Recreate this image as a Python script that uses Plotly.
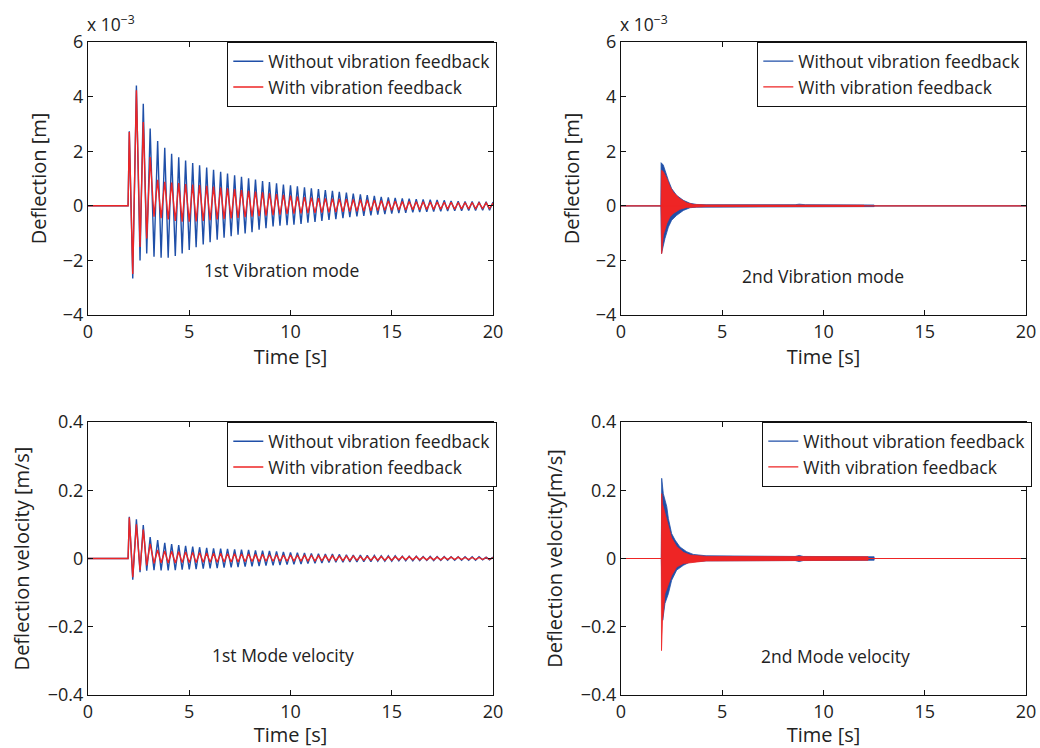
import plotly.graph_objects as go

# ---- 1st mode: times of the extrema ----
t_up = [2.04, 2.39, 2.73, 3.07, 3.44, 3.79, 4.13, 4.48, 4.82, 5.17, 5.51, 5.86, 6.20, 6.55, 6.89,
        7.24, 7.58, 7.93, 8.27, 8.62, 8.96, 9.31, 9.65, 10.00, 10.34, 10.69, 11.03, 11.38, 11.72,
        12.07, 12.41, 12.76, 13.10, 13.45, 13.79, 14.14, 14.48, 14.83, 15.17, 15.52, 15.86, 16.21,
        16.55, 16.90, 17.24, 17.59, 17.93, 18.28, 18.62, 18.97, 19.31, 19.66, 20.00]
t_dn = [2.21, 2.57, 2.90, 3.26, 3.61, 3.96, 4.31, 4.65, 5.00, 5.34, 5.69, 6.03, 6.38, 6.72, 7.07,
        7.41, 7.76, 8.10, 8.45, 8.79, 9.14, 9.48, 9.83, 10.17, 10.52, 10.86, 11.21, 11.55, 11.90,
        12.24, 12.59, 12.93, 13.28, 13.62, 13.97, 14.31, 14.66, 15.00, 15.35, 15.69, 16.04, 16.38,
        16.73, 17.07, 17.42, 17.76, 18.11, 18.45, 18.80, 19.14, 19.49, 19.83]

# deflection, units of 1e-3 m
defl_blue_up = [2.73, 4.41, 3.74, 2.83, 2.37, 2.13, 1.91, 1.78, 1.66, 1.57, 1.48, 1.40, 1.32, 1.25,
                1.18, 1.12, 1.06, 1.01, 0.96, 0.91, 0.87, 0.82, 0.78, 0.75, 0.71, 0.68, 0.64, 0.61,
                0.58, 0.55, 0.51, 0.48, 0.45, 0.42, 0.39, 0.36, 0.33, 0.31, 0.29, 0.27, 0.26, 0.24,
                0.23, 0.22, 0.21, 0.20, 0.18, 0.17, 0.16, 0.16, 0.15, 0.15, 0.14]
defl_blue_dn = [-2.66, -2.00, -1.75, -1.87, -1.90, -1.90, -1.84, -1.75, -1.62, -1.52, -1.42, -1.33,
                -1.24, -1.17, -1.11, -1.06, -1.01, -0.97, -0.88, -0.82, -0.76, -0.73, -0.71, -0.69,
                -0.66, -0.62, -0.59, -0.55, -0.52, -0.49, -0.45, -0.42, -0.39, -0.37, -0.35, -0.32,
                -0.30, -0.29, -0.27, -0.26, -0.24, -0.23, -0.22, -0.21, -0.20, -0.19, -0.18, -0.18,
                -0.17, -0.17, -0.16, -0.16]
defl_red_up = [2.70, 4.23, 3.07, 1.79, 0.95, 0.88, 0.85, 0.83, 0.80, 0.78, 0.76, 0.73, 0.70, 0.67,
               0.64, 0.61, 0.58, 0.55, 0.52, 0.49, 0.46, 0.43, 0.40, 0.37, 0.34, 0.32, 0.30, 0.28,
               0.27, 0.26, 0.25, 0.24, 0.23, 0.22, 0.21, 0.20, 0.19, 0.18, 0.17, 0.16, 0.16, 0.15,
               0.15, 0.14, 0.14, 0.13, 0.13, 0.12, 0.12, 0.12, 0.11, 0.11, 0.10]
defl_red_dn = [-2.50, -1.51, -1.20, -0.40, -0.45, -0.50, -0.55, -0.58, -0.58, -0.57, -0.55, -0.53,
               -0.50, -0.48, -0.46, -0.44, -0.42, -0.40, -0.38, -0.36, -0.34, -0.32, -0.30, -0.29,
               -0.28, -0.27, -0.26, -0.25, -0.24, -0.23, -0.22, -0.21, -0.20, -0.19, -0.18, -0.17,
               -0.16, -0.16, -0.15, -0.15, -0.14, -0.14, -0.13, -0.13, -0.12, -0.12, -0.12, -0.11,
               -0.11, -0.10, -0.10, -0.10]

# deflection velocity, m/s
vel_blue_up = [0.122, 0.115, 0.098, 0.063, 0.054, 0.046, 0.042, 0.039, 0.037, 0.035, 0.033, 0.031,
               0.030, 0.029, 0.028, 0.027, 0.026, 0.025, 0.024, 0.023, 0.022, 0.021, 0.019, 0.018,
               0.017, 0.016, 0.015, 0.014, 0.013, 0.013, 0.012, 0.011, 0.010, 0.010, 0.009, 0.009,
               0.008, 0.008, 0.008, 0.007, 0.007, 0.007, 0.006, 0.006, 0.006, 0.006, 0.005, 0.005,
               0.005, 0.005, 0.005, 0.004, 0.004]
vel_blue_dn = [-0.062, -0.040, -0.036, -0.034, -0.035, -0.035, -0.034, -0.033, -0.032, -0.031,
               -0.030, -0.029, -0.028, -0.027, -0.026, -0.025, -0.024, -0.023, -0.022, -0.021,
               -0.020, -0.019, -0.018, -0.017, -0.016, -0.015, -0.014, -0.013, -0.012, -0.011,
               -0.011, -0.010, -0.010, -0.009, -0.009, -0.008, -0.008, -0.008, -0.007, -0.007,
               -0.007, -0.006, -0.006, -0.006, -0.006, -0.005, -0.005, -0.005, -0.005, -0.005,
               -0.004, -0.004]
vel_red_up = [0.120, 0.100, 0.085, 0.043, 0.025, 0.022, 0.021, 0.020, 0.019, 0.018, 0.017, 0.016,
              0.015, 0.015, 0.014, 0.014, 0.013, 0.013, 0.012, 0.012, 0.011, 0.011, 0.010, 0.010,
              0.009, 0.009, 0.009, 0.008, 0.008, 0.008, 0.007, 0.007, 0.007, 0.006, 0.006, 0.006,
              0.006, 0.005, 0.005, 0.005, 0.005, 0.005, 0.004, 0.004, 0.004, 0.004, 0.004, 0.004,
              0.003, 0.003, 0.003, 0.003, 0.003]
vel_red_dn = [-0.055, -0.034, -0.020, -0.014, -0.013, -0.013, -0.013, -0.012, -0.012, -0.012,
              -0.011, -0.011, -0.011, -0.010, -0.010, -0.010, -0.009, -0.009, -0.009, -0.008,
              -0.008, -0.008, -0.008, -0.007, -0.007, -0.007, -0.007, -0.006, -0.006, -0.006,
              -0.006, -0.006, -0.005, -0.005, -0.005, -0.005, -0.005, -0.005, -0.004, -0.004,
              -0.004, -0.004, -0.004, -0.004, -0.004, -0.003, -0.003, -0.003, -0.003, -0.003,
              -0.003, -0.003]

# ---- 2nd mode: envelopes of the dense high-frequency burst ----
m2_blue_t_up = [1.97, 1.98, 2.09, 2.17, 2.34, 2.50, 2.75, 3.08, 3.41, 3.74, 4.20, 8.60, 8.80, 9.10, 12.50]
m2_blue_up = [0.0, 1.58, 1.49, 1.30, 0.93, 0.63, 0.38, 0.20, 0.09, 0.05, 0.04, 0.04, 0.06, 0.04, 0.03]
m2_blue_t_dn = [1.97, 2.00, 2.17, 2.34, 2.50, 2.75, 3.08, 3.41, 3.74, 4.20, 8.60, 8.80, 9.10, 12.50]
m2_blue_dn = [0.0, -1.75, -1.20, -0.78, -0.53, -0.35, -0.17, -0.07, -0.05, -0.04, -0.04, -0.05, -0.04, -0.03]
m2_red_t_up = [1.98, 2.00, 2.09, 2.26, 2.42, 2.58, 2.91, 3.24, 3.57, 4.20, 12.00]
m2_red_up = [0.0, 1.30, 1.25, 1.00, 0.70, 0.50, 0.26, 0.11, 0.05, 0.03, 0.02]
m2_red_t_dn = [1.98, 2.01, 2.09, 2.26, 2.42, 2.58, 2.91, 3.24, 3.57, 4.20, 12.00]
m2_red_dn = [0.0, -1.75, -1.07, -0.65, -0.40, -0.28, -0.13, -0.06, -0.04, -0.03, -0.02]

v2_blue_t_up = [1.99, 2.01, 2.09, 2.26, 2.34, 2.50, 2.67, 2.91, 3.24, 3.57, 4.20, 8.60, 8.80, 9.00, 12.50]
v2_blue_up = [0.0, 0.235, 0.19, 0.152, 0.117, 0.073, 0.054, 0.034, 0.020, 0.012, 0.008, 0.006, 0.009, 0.006, 0.005]
v2_blue_t_dn = [1.99, 2.06, 2.17, 2.34, 2.50, 2.75, 3.08, 3.41, 4.20, 8.60, 8.80, 9.00, 12.50]
v2_blue_dn = [0.0, -0.181, -0.132, -0.103, -0.064, -0.034, -0.020, -0.010, -0.007, -0.006, -0.009, -0.006, -0.005]
v2_red_t_up = [1.99, 2.01, 2.05, 2.17, 2.34, 2.50, 2.75, 3.08, 3.41, 4.20, 12.20]
v2_red_up = [0.0, 0.19, 0.16, 0.13, 0.095, 0.060, 0.035, 0.018, 0.010, 0.006, 0.005]
v2_red_t_dn = [1.99, 2.00, 2.05, 2.09, 2.17, 2.34, 2.50, 2.75, 3.08, 4.20, 12.20]
v2_red_dn = [0.0, -0.27, -0.18, -0.16, -0.103, -0.073, -0.050, -0.025, -0.015, -0.007, -0.005]

x_ticks = [0, 5, 10, 15, 20]
defl_ticks = [-4, -2, 0, 2, 4, 6]
vel_ticks = [-0.4, -0.2, 0, 0.2, 0.4]

BLUE = "#1f4fa8"
RED = "#ee2525"
FONT = "Open Sans"

W, H = 1040, 748


def fx(px):
    return px / W


def fy(py):
    return 1 - py / H


def zigzag(up_t, up_v, dn_t, dn_v):
    pts = sorted(list(zip(up_t, up_v)) + list(zip(dn_t, dn_v)))
    return [0, 1.98] + [p[0] for p in pts], [0, 0] + [p[1] for p in pts]


def band(tu, vu, td, vd):
    return tu + td[::-1], vu + vd[::-1]


fig = go.Figure()

panels = [
    ("x", "y", "legend", (defl_blue_up, defl_blue_dn), (defl_red_up, defl_red_dn)),
    ("x3", "y3", "legend3", (vel_blue_up, vel_blue_dn), (vel_red_up, vel_red_dn)),
]
for xa, ya, lg, b, r in panels:
    bx, by = zigzag(t_up, b[0], t_dn, b[1])
    rx, ry = zigzag(t_up, r[0], t_dn, r[1])
    fig.add_trace(go.Scatter(x=bx, y=by, mode="lines", line=dict(color=BLUE, width=1.4),
                             name="Without vibration feedback", xaxis=xa, yaxis=ya, legend=lg))
    fig.add_trace(go.Scatter(x=rx, y=ry, mode="lines", line=dict(color=RED, width=1.4),
                             name="With vibration feedback", xaxis=xa, yaxis=ya, legend=lg))

panels2 = [
    ("x2", "y2", "legend2", (m2_blue_t_up, m2_blue_up, m2_blue_t_dn, m2_blue_dn),
     (m2_red_t_up, m2_red_up, m2_red_t_dn, m2_red_dn)),
    ("x4", "y4", "legend4", (v2_blue_t_up, v2_blue_up, v2_blue_t_dn, v2_blue_dn),
     (v2_red_t_up, v2_red_up, v2_red_t_dn, v2_red_dn)),
]
for xa, ya, lg, b, r in panels2:
    for env, col, name in [(b, BLUE, "Without vibration feedback"), (r, RED, "With vibration feedback")]:
        px_, py_ = band(*env)
        fig.add_trace(go.Scatter(x=px_, y=py_, mode="lines", fill="toself", fillcolor=col,
                                 line=dict(color=col, width=0.8), showlegend=False,
                                 hoverinfo="skip", xaxis=xa, yaxis=ya))
        fig.add_trace(go.Scatter(x=[0, 20], y=[0, 0], mode="lines", line=dict(color=col, width=1.2),
                                 name=name, xaxis=xa, yaxis=ya, legend=lg))

tick_font = dict(family=FONT, size=18, color="#222")
title_font = dict(family=FONT, size=20, color="#222")


def xax(l, r, anchor):
    return dict(domain=[fx(l), fx(r)], anchor=anchor, range=[0, 20], tickvals=x_ticks,
                showgrid=False, zeroline=False, showline=True, mirror="ticks", linecolor="#111",
                linewidth=1.3, ticks="inside", ticklen=5, tickcolor="#111", tickfont=tick_font,
                automargin=False, title=dict(text="Time [s]", font=title_font, standoff=0))


def yax(t, b, anchor, rng, ticks, title, standoff):
    return dict(domain=[fy(b), fy(t)], anchor=anchor, range=rng, tickvals=ticks,
                showgrid=False, zeroline=False, showline=True, mirror="ticks", linecolor="#111",
                linewidth=1.3, ticks="inside", ticklen=5, tickcolor="#111", tickfont=tick_font,
                automargin=False, title=dict(text=title, font=title_font, standoff=standoff))


leg = dict(bgcolor="white", bordercolor="#111", borderwidth=1.3, xanchor="left", yanchor="top",
           font=dict(family=FONT, size=17.5, color="#222"), tracegroupgap=0, traceorder="normal")

fig.update_layout(
    width=W, height=H, margin=dict(l=0, r=0, t=0, b=0, autoexpand=False),
    paper_bgcolor="white", plot_bgcolor="white",
    font=dict(family=FONT, color="#222"),
    xaxis=xax(88, 493, "y"), yaxis=yax(42, 315, "x", [-4, 6], defl_ticks, "Deflection [m]", 10),
    xaxis2=xax(621, 1026, "y2"), yaxis2=yax(42, 315, "x2", [-4, 6], defl_ticks, "Deflection [m]", 10),
    xaxis3=xax(88, 493, "y3"),
    yaxis3=yax(422, 695, "x3", [-0.4, 0.4], vel_ticks, "Deflection velocity [m/s]", 12),
    xaxis4=xax(621, 1026, "y4"),
    yaxis4=yax(422, 695, "x4", [-0.4, 0.4], vel_ticks, "Deflection velocity[m/s]", 12),
    legend=dict(leg, x=fx(227), y=fy(42)),
    legend2=dict(leg, x=fx(757), y=fy(42)),
    legend3=dict(leg, x=fx(227), y=fy(422)),
    legend4=dict(leg, x=fx(762), y=fy(422)),
    showlegend=True,
)

ann_font = dict(family=FONT, size=17.5, color="#222")
for x, y, txt in [(281, 270, "1st Vibration mode"), (823, 276, "2nd Vibration mode"),
                  (283, 655, "1st Mode velocity"), (835, 656, "2nd Mode velocity")]:
    fig.add_annotation(x=fx(x), y=fy(y), xref="paper", yref="paper", text=txt,
                       showarrow=False, font=ann_font, xanchor="center", yanchor="middle")
for x in (85, 618):
    fig.add_annotation(x=fx(x), y=fy(38), xref="paper", yref="paper",
                       text="x 10<sup>\u22123</sup>", showarrow=False, font=ann_font,
                       xanchor="left", yanchor="bottom")

# drop the page's default body margin so the figure fills the window exactly
fig.write_html("out.html", config={"displayModeBar": False},
               post_script="document.body.style.margin='0';"
                           "document.documentElement.style.overflow='hidden';")
